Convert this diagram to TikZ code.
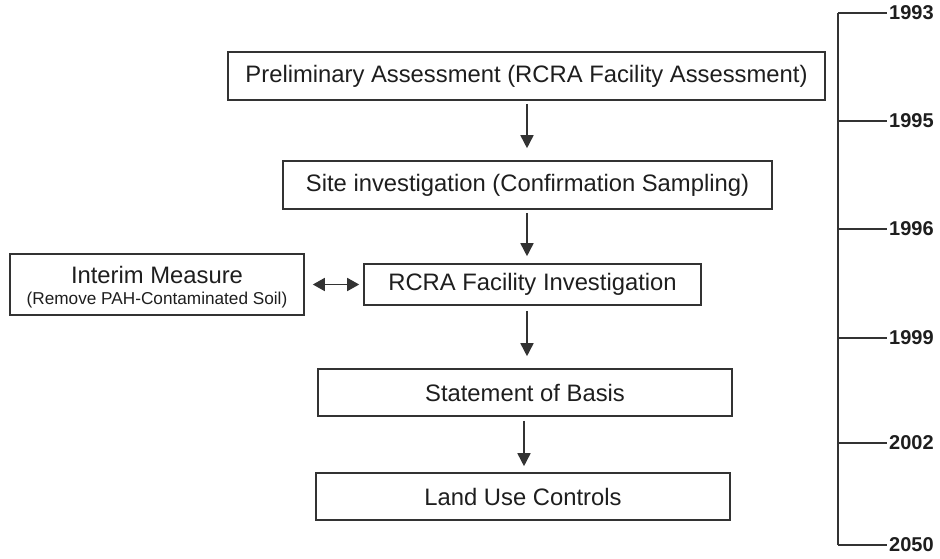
\documentclass[tikz,border=0pt]{standalone}
\usepackage{fontspec}
\setmainfont{Liberation Sans}
\usetikzlibrary{arrows.meta}
\definecolor{ink}{HTML}{1E1E1E}
\definecolor{rule}{HTML}{333333}
\begin{document}
\begin{tikzpicture}[x=1pt,y=-1pt,
  stage/.style={draw=rule, line width=1.6pt, rectangle, inner sep=0pt,
    text=ink, font=\fontsize{23.8}{26}\selectfont},
  flow/.style={draw=rule, line width=1.6pt, -{Triangle[length=13pt,width=13pt]}},
  both/.style={draw=rule, line width=1.6pt, {Triangle[length=12pt,width=13pt]}-{Triangle[length=12pt,width=13pt]}},
  axis/.style={draw=rule, line width=1.6pt},
  year/.style={anchor=west, inner sep=0pt, text=ink, font=\fontsize{20}{22}\selectfont\bfseries}]
\useasboundingbox (0,0) rectangle (940,558);

% process stages
\node[stage, minimum width=597pt, minimum height=48pt] (pa)  at (526.5,76)  {Preliminary Assessment (RCRA Facility Assessment)};
\node[stage, minimum width=489pt, minimum height=48pt] (si)  at (527.5,185) {Site investigation (Confirmation Sampling)};
\node[stage, minimum width=337pt, minimum height=41pt] (rfi) at (532.5,284.5) {RCRA Facility Investigation};
\node[stage, minimum width=414pt, minimum height=47pt] (sb)  at (525,392.5) {Statement of Basis};
\node[stage, minimum width=414pt, minimum height=47pt] (luc) at (523,496.5) {Land Use Controls};

% side activity: frame plus its two-line caption
\node[stage, minimum width=294pt, minimum height=61pt] (im) at (157,284.5) {};
\node[align=center, inner sep=0pt, text=ink, font=\fontsize{23.8}{21}\selectfont]
  (imtext) at ([yshift=-3pt]im.center)
  {Interim Measure\\{\fontsize{17.2}{21}\selectfont(Remove PAH-Contaminated Soil)}};

% flow between stages
\draw[flow, shorten <=3pt, shorten >=12pt] (527,0 |- pa.south) -- (527,0 |- si.north);
\draw[flow, shorten <=3pt, shorten >=7pt]  (527,0 |- si.south) -- (527,0 |- rfi.north);
\draw[flow, shorten <=5pt, shorten >=12pt] (527,0 |- rfi.south) -- (527,0 |- sb.north);
\draw[flow, shorten <=4pt, shorten >=6pt]  (524,0 |- sb.south) -- (524,0 |- luc.north);
\draw[both, shorten <=8pt, shorten >=4pt]  (im.east) -- (rfi.west);

% timeline
\coordinate (top) at (838,13);
\coordinate (bot) at (838,545);
\draw[axis] (top) -- (bot);
\foreach \yr/\yy in {1993/13, 1995/121, 1996/229, 1999/338, 2002/443, 2050/545}{
  \coordinate (t\yr) at (838,\yy);
  \node[year] (y\yr) at (889,\yy) {\yr};
  \draw[axis] (t\yr) -- ([xshift=-2pt]y\yr.west);
}
\end{tikzpicture}
\end{document}
